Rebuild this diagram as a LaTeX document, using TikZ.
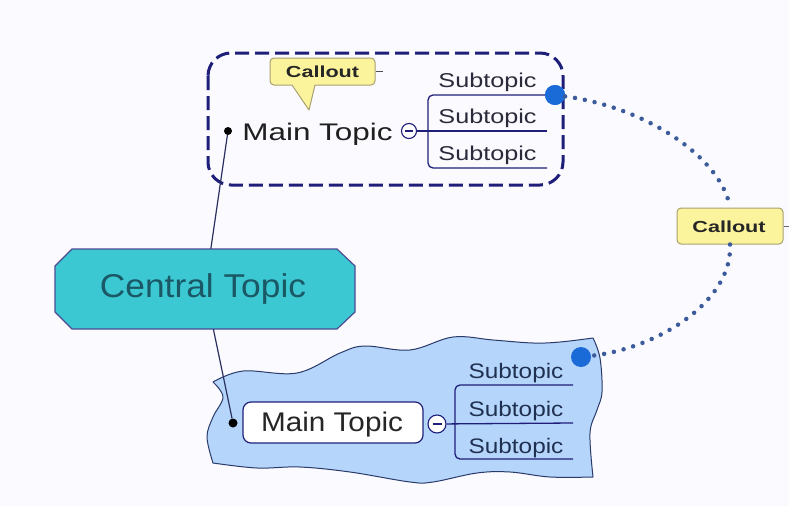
\documentclass[tikz,border=0pt]{standalone}
\usepackage{fontspec}
\setmainfont{Liberation Sans}
\usepackage{graphicx}
\definecolor{navy}{HTML}{1F1F7A}
\definecolor{linkcol}{HTML}{2A3060}
\definecolor{turq}{HTML}{3CC8D2}
\definecolor{centraltext}{HTML}{1A5866}
\definecolor{wavefill}{HTML}{B5D5FB}
\definecolor{waveedge}{HTML}{2A3A6A}
\definecolor{calloutfill}{HTML}{FCF49C}
\definecolor{calloutedge}{HTML}{A8A070}
\definecolor{bluedot}{HTML}{1A6AD8}
\definecolor{dotcol}{HTML}{3B5B9B}
\definecolor{subtext}{HTML}{2A2A3A}
\definecolor{subtextb}{HTML}{1F3050}
\newcommand{\wide}[2]{\scalebox{#1}[1]{#2}}
\tikzset{
  conn/.style={draw=linkcol, line width=1.2pt},
  branch/.style={draw=navy, line width=1.3pt, rounded corners=5pt},
  bulletdot/.style={circle, fill=black, inner sep=0pt, minimum size=8pt},
  collapse/.style={circle, draw=navy, fill=white, line width=1.1pt, inner sep=0pt, minimum size=15pt},
  anchorball/.style={circle, fill=bluedot, inner sep=0pt, minimum size=20pt},
  dotline/.style={draw=dotcol, line width=4.5pt, line cap=round, dash pattern=on 0pt off 10pt},
  calloutbox/.style={draw=calloutedge, fill=calloutfill, line width=1pt, rounded corners=4pt, inner sep=0pt},
  callouttxt/.style={font=\bfseries\fontsize{16}{19}\selectfont, text=black!85, inner sep=0pt, anchor=base},
  subA/.style={font=\fontsize{20}{24}\selectfont, text=subtext, inner sep=0pt, anchor=base},
  subB/.style={font=\fontsize{21}{25}\selectfont, text=subtextb, inner sep=0pt, anchor=base},
}
\begin{document}
\begin{tikzpicture}[x=1pt,y=-1pt]
  \fill[white!98!blue] (0,0) rectangle (789,506);
  \useasboundingbox (0,0) rectangle (789,506);

  % wavy boundary around the lower main topic
  \draw[fill=wavefill, draw=waveedge, line width=1pt, line join=round]
    plot[smooth, tension=0.6] coordinates {(213,382) (243,371) (297,373) (340,353) (365,346) (410,350) (453,337) (493,340) (533,343) (560,342) (593,338)}
    -- plot[smooth, tension=0.6] coordinates {(593,338) (600,358) (602,392) (597,410) (590,433) (593,477)}
    -- plot[smooth, tension=0.6] coordinates {(593,477) (550,477) (510,472) (477,473) (433,482) (410,482) (350,472) (300,467) (257,468) (213,463)}
    -- plot[smooth, tension=0.6] coordinates {(213,463) (207,437) (213,417) (223,397) (213,382)}
    -- cycle;

  % dashed boundary around the upper main topic
  \draw[navy, line width=3pt, rounded corners=23pt, dash pattern=on 14pt off 6pt]
    (208,53) rectangle (563,185);

  % central topic
  \node[minimum width=300pt, minimum height=80pt, inner sep=0pt] (central) at (205,289) {};
  \draw[fill=turq, draw=navy!80, line width=1.2pt]
    (72,249) -- (337,249) -- (355,266) -- (355,312) -- (337,329) -- (72,329) -- (55,312) -- (55,266) -- cycle;
  \node[font=\fontsize{33}{38}\selectfont, text=centraltext, inner sep=0pt, anchor=base] (centraltxt) at (203,297) {\wide{1.07}{Central Topic}};

  % upper main topic
  \node[bulletdot] (dot1) at (228,131) {};
  \node[font=\fontsize{24}{29}\selectfont, text=black!88, inner sep=0pt, anchor=base] (mt1) at (317.5,140) {\wide{1.31}{Main Topic}};
  \node[collapse] (col1) at (409,131) {};
  \draw[navy, line width=1.1pt] ([xshift=-4pt]col1.center) -- ([xshift=4pt]col1.center);
  \node[anchorball] (bd1) at (555,95) {};
  \draw[branch] (bd1.center) -- (428,95) -- (428,168) -- (547,168);
  \draw[navy, line width=1.3pt] (col1) -- (547,131);
  \node[subA] (s11) at (487.5,87) {\wide{1.26}{Subtopic}};
  \node[subA] (s12) at (487.5,123) {\wide{1.26}{Subtopic}};
  \node[subA] (s13) at (487.5,160) {\wide{1.26}{Subtopic}};
  \node[anchorball] at (555,95) {};

  % callout attached to the upper main topic
  \node[calloutbox, minimum width=105pt, minimum height=27pt] (co1) at (322.5,71.5) {};
  \fill[calloutfill] (292,84) -- (309,110) -- (315,84) -- cycle;
  \draw[calloutedge, line width=1pt, line join=round] (292,85) -- (309,110) -- (315,85);
  \node[callouttxt] (co1txt) at (322.5,77.5) {\wide{1.35}{Callout}};
  \draw[black!70, line width=1pt] (co1.east) -- ++(7,0) coordinate (co1tick);

  % lower main topic
  \node[bulletdot, minimum size=9pt] (dot2) at (233,423) {};
  \node[draw=navy, fill=white, line width=1.2pt, rounded corners=8pt, minimum width=180pt, minimum height=41pt, inner sep=0pt] (mt2) at (333,422.5) {};
  \node[font=\fontsize{27}{32}\selectfont, text=black!85, inner sep=0pt, anchor=base] (mt2txt) at (332,431.5) {\wide{1.1}{Main Topic}};
  \node[collapse, minimum size=18pt] (col2) at (437,424) {};
  \draw[navy, line width=1.1pt] ([xshift=-4.5pt]col2.center) -- ([xshift=4.5pt]col2.center);
  \draw[branch] (573,385) -- (455,385) -- (455,459) -- (573,459);
  \draw[navy, line width=1.3pt] (col2) -- (573,423);
  \node[subB] (s21) at (516,378) {\wide{1.16}{Subtopic}};
  \node[subB] (s22) at (516,416) {\wide{1.16}{Subtopic}};
  \node[subB] (s23) at (516,453) {\wide{1.16}{Subtopic}};
  \node[anchorball] (bd2) at (581,357) {};

  % connectors from the central topic
  \draw[conn] (dot1) -- (central);
  \draw[conn] (central) -- (dot2);

  % relationship callout
  \node[calloutbox, minimum width=106pt, minimum height=36pt] (co2) at (730,226) {};
  \node[callouttxt] (co2txt) at (729,232) {\wide{1.35}{Callout}};
  \draw[black!60, line width=1pt] (co2.east) -- ++(7,0) coordinate (co2tick);
  \draw[dotline] (bd1) .. controls (650,108) and (722,160) .. (co2.north);
  \draw[dotline] (co2.south) .. controls (733,300) and (660,348) .. (bd2);
\end{tikzpicture}
\end{document}
